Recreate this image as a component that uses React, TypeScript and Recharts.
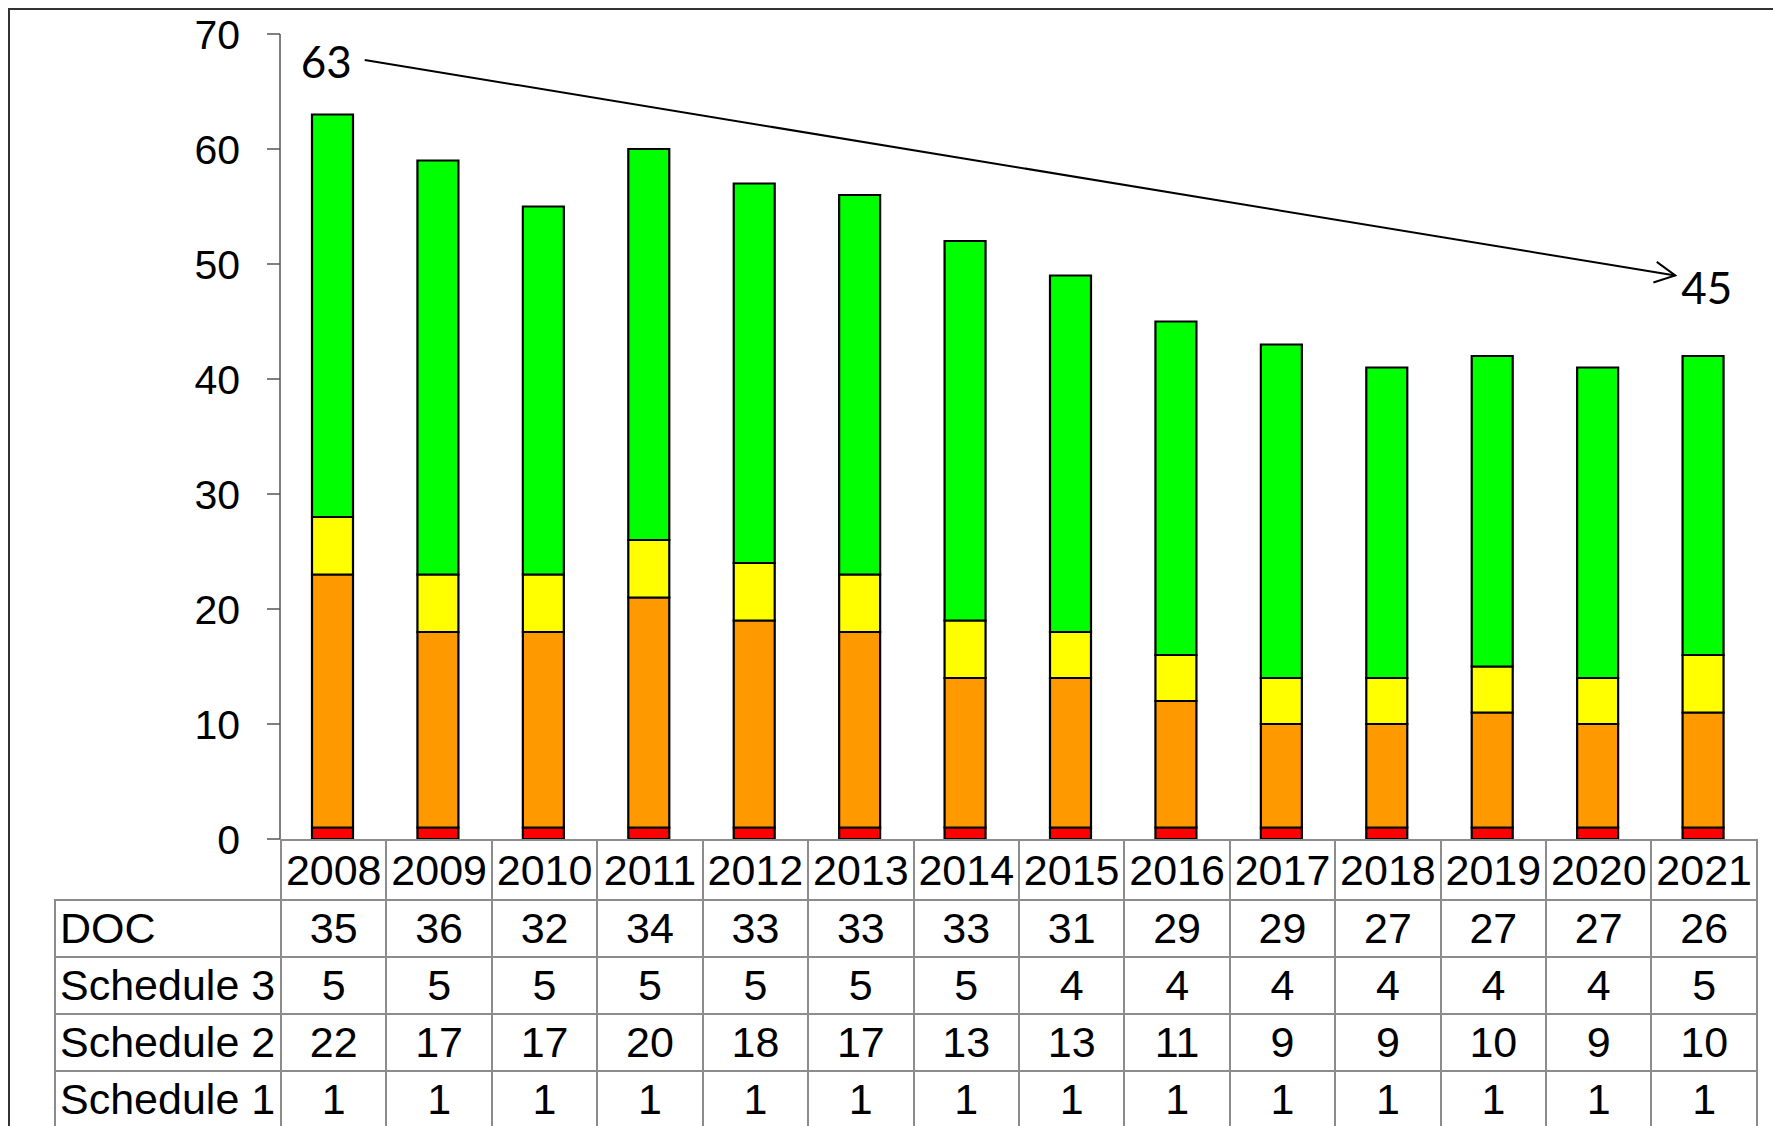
import { BarChart, Bar, XAxis, YAxis, ReferenceLine } from "recharts";

const years = ["2008", "2009", "2010", "2011", "2012", "2013", "2014", "2015", "2016", "2017", "2018", "2019", "2020", "2021"];
const doc = [35, 36, 32, 34, 33, 33, 33, 31, 29, 29, 27, 27, 27, 26];
const schedule3 = [5, 5, 5, 5, 5, 5, 5, 4, 4, 4, 4, 4, 4, 5];
const schedule2 = [22, 17, 17, 20, 18, 17, 13, 13, 11, 9, 9, 10, 9, 10];
const schedule1 = [1, 1, 1, 1, 1, 1, 1, 1, 1, 1, 1, 1, 1, 1];
const yTicks = [0, 10, 20, 30, 40, 50, 60, 70];

// trend arrow: labels at each end, and the y level the arrow runs through at first/last year
const trendLabels = ["63", "45"];
const trendLevels = [68.2, 48.6];

const chartData = years.map((year, i) => ({
  year,
  s1: schedule1[i],
  s2: schedule2[i],
  s3: schedule3[i],
  doc: doc[i],
}));

const tableRows = [
  { name: "DOC", values: doc },
  { name: "Schedule 3", values: schedule3 },
  { name: "Schedule 2", values: schedule2 },
  { name: "Schedule 1", values: schedule1 },
];

const FONT = '"Liberation Sans", Arial, sans-serif';
const GRID = "2px solid #8c8c8c";

// arrow drawn between the two segment ends, trimmed so the labels fit
const TrendArrow = (props: any) => {
  const { x1, y1, x2, y2 } = props;
  const dx = x2 - x1;
  const dy = y2 - y1;
  const t0 = 32 / dx;
  const t1 = 1 - 28 / dx;
  const sx = x1 + dx * t0;
  const sy = y1 + dy * t0;
  const ex = x1 + dx * t1;
  const ey = y1 + dy * t1;
  const ang = Math.atan2(dy, dx);
  const arm = 23;
  const spread = (27 * Math.PI) / 180;
  const a1x = ex - arm * Math.cos(ang - spread);
  const a1y = ey - arm * Math.sin(ang - spread);
  const a2x = ex - arm * Math.cos(ang + spread);
  const a2y = ey - arm * Math.sin(ang + spread);
  return (
    <g>
      <line x1={sx} y1={sy} x2={ex} y2={ey} stroke="#000" strokeWidth={2} />
      <polyline points={`${a1x},${a1y} ${ex},${ey} ${a2x},${a2y}`} fill="none" stroke="#000" strokeWidth={2} />
      <text x={sx - 13} y={sy + 1} textAnchor="end" dominantBaseline="central" fontSize={44} fontFamily="Lato, sans-serif" fill="#000">
        {trendLabels[0]}
      </text>
      <text x={ex + 6} y={ey + 12} textAnchor="start" dominantBaseline="central" fontSize={44} fontFamily="Lato, sans-serif" fill="#000">
        {trendLabels[1]}
      </text>
    </g>
  );
};

export default function App() {
  const colW = 1476 / years.length;
  return (
    <div style={{ position: "fixed", left: 8, top: 8, width: 1765, height: 1118, overflow: "hidden", fontFamily: FONT, background: "#fff" }}>
      <div style={{ position: "absolute", left: 0, top: 0, right: 0, bottom: 0, borderTop: "2px solid #333", borderLeft: "2px solid #333" }} />
      <div style={{ position: "absolute", left: 0, top: 0 }}>
        <BarChart width={1757} height={870} data={chartData} margin={{ top: 26, right: 9, bottom: 39, left: 0 }} barSize={41}>
          <XAxis dataKey="year" hide />
          <YAxis
            width={272}
            domain={[0, 70]}
            ticks={yTicks}
            interval={0}
            tickSize={13}
            tickMargin={27}
            axisLine={{ stroke: "#555", strokeWidth: 1.5 }}
            tickLine={{ stroke: "#555", strokeWidth: 1.5 }}
            tick={{ fontSize: 41, fill: "#000", fontFamily: FONT }}
          />
          <Bar dataKey="s1" stackId="a" fill="#ff0000" stroke="#000" strokeWidth={2.2} isAnimationActive={false} />
          <Bar dataKey="s2" stackId="a" fill="#ff9900" stroke="#000" strokeWidth={2.2} isAnimationActive={false} />
          <Bar dataKey="s3" stackId="a" fill="#ffff00" stroke="#000" strokeWidth={2.2} isAnimationActive={false} />
          <Bar dataKey="doc" stackId="a" fill="#00ff00" stroke="#000" strokeWidth={2.2} isAnimationActive={false} />
          <ReferenceLine
            segment={[
              { x: years[0], y: trendLevels[0] },
              { x: years[years.length - 1], y: trendLevels[1] },
            ]}
            ifOverflow="visible"
            shape={TrendArrow}
          />
        </BarChart>
      </div>
      <table
        style={{
          position: "absolute",
          left: 46,
          top: 831,
          borderCollapse: "collapse",
          tableLayout: "fixed",
          width: 226 + 1476,
          fontSize: 43,
          lineHeight: 1,
          color: "#000",
        }}
      >
        <colgroup>
          <col style={{ width: 226 }} />
          {years.map((y) => (
            <col key={y} style={{ width: colW }} />
          ))}
        </colgroup>
        <tbody>
          <tr style={{ height: 60 }}>
            <td style={{ border: "none", padding: 0 }} />
            {years.map((y) => (
              <td key={y} style={{ border: GRID, padding: 0, textAlign: "center", whiteSpace: "nowrap" }}>
                {y}
              </td>
            ))}
          </tr>
          {tableRows.map((row) => (
            <tr key={row.name} style={{ height: 57 }}>
              <td style={{ border: GRID, padding: "0 0 0 4px", textAlign: "left", whiteSpace: "nowrap" }}>{row.name}</td>
              {row.values.map((v, i) => (
                <td key={i} style={{ border: GRID, padding: 0, textAlign: "center" }}>
                  {v}
                </td>
              ))}
            </tr>
          ))}
        </tbody>
      </table>
    </div>
  );
}
